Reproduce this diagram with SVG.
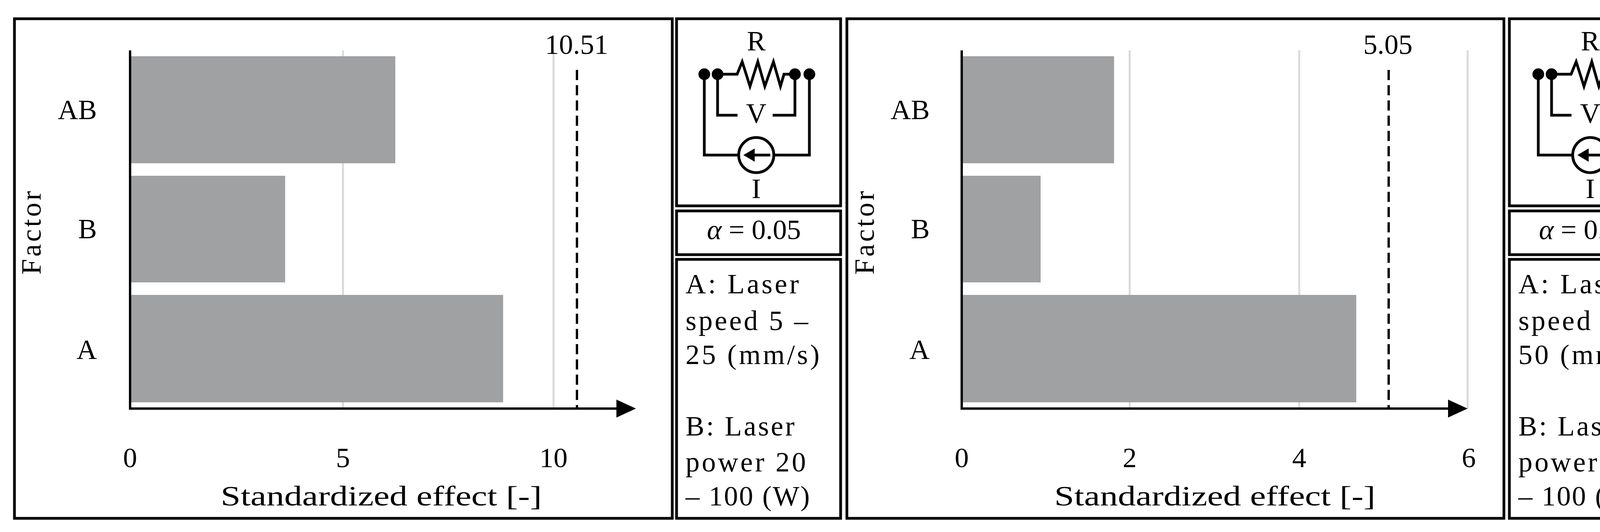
<svg xmlns="http://www.w3.org/2000/svg" width="4303" height="1362" viewBox="0 0 4303 1362">
<defs>
<style>
.box{fill:none;stroke:#000;stroke-width:7}
.t{font-family:"Liberation Serif","Times New Roman",serif;font-size:72px;fill:#000}
.m{text-anchor:middle}
.e{text-anchor:end}
.grid{stroke:#d9d9d9;stroke-width:5}
.bar{fill:#a0a1a3}
.ax{stroke:#000;stroke-width:6;fill:none}
.dash{stroke:#000;stroke-width:6;stroke-dasharray:26 13}
.w{stroke:#000;stroke-width:7;fill:none}
</style>
<g id="circuit">
<text class="t m" x="1936" y="129">R</text>
<polyline class="w" points="1837,190 1887,190 1900,158 1920,221 1940,158 1958,221 1980,158 1998,221 2007,190 2035,190"/>
<polyline class="w" points="1837,190 1837,295 1888,295"/>
<polyline class="w" points="1978,295 2035,295 2035,190"/>
<text class="t m" x="1936" y="314">V</text>
<polyline class="w" points="1803,190 1803,397 1891,397"/>
<polyline class="w" points="2072,190 2072,397 1981,397"/>
<circle class="w" cx="1936" cy="397" r="45"/>
<line class="w" x1="1972" y1="397" x2="1925" y2="397"/>
<polygon points="1903,397 1932,380 1932,414" fill="#000"/>
<circle cx="1803" cy="190" r="15"/><circle cx="1837" cy="190" r="15"/>
<circle cx="2035" cy="190" r="15"/><circle cx="2072" cy="190" r="15"/>
<text class="t m" x="1936" y="507">I</text>
</g>
</defs>

<g id="panel-left">
<rect class="box" x="37" y="48" width="1684" height="1279"/>
<line class="grid" x1="878" y1="129" x2="878" y2="1046"/>
<line class="grid" x1="1417" y1="129" x2="1417" y2="1046"/>
<rect class="bar" x="333" y="144" width="679" height="274"/>
<rect class="bar" x="333" y="450" width="397" height="273"/>
<rect class="bar" x="333" y="755" width="955" height="275"/>
<line class="dash" x1="1477" y1="179" x2="1477" y2="1046"/>
<text class="t m" x="1476" y="138">10.51</text>
<line class="ax" x1="333" y1="129" x2="333" y2="1049"/>
<line class="ax" x1="330" y1="1046" x2="1590" y2="1046"/>
<polygon points="1578,1023 1628,1046 1578,1069" fill="#000"/>
<text class="t e" x="248" y="305">AB</text>
<text class="t e" x="248" y="610">B</text>
<text class="t e" x="248" y="919">A</text>
<text class="t m" transform="translate(104,593) rotate(-90)" letter-spacing="6">Factor</text>
<text class="t m" x="333" y="1196">0</text>
<text class="t m" x="878" y="1196">5</text>
<text class="t m" x="1417" y="1196">10</text>
<text class="t m" x="976" y="1294" textLength="822" lengthAdjust="spacingAndGlyphs">Standardized effect  [-]</text>
</g>
<g id="circuit-left">
<rect class="box" x="1732" y="48" width="420" height="479"/>
<use href="#circuit"/>
</g>
<g id="alpha-left">
<rect class="box" x="1732" y="540" width="420" height="112"/>
<text class="t m" x="1930" y="612"><tspan font-style="italic">α</tspan> = 0.05</text>
</g>
<g id="legend-left">
<rect class="box" x="1732" y="664" width="420" height="663"/>
<text class="t" x="1755" y="751" textLength="290">A: Laser</text>
<text class="t" x="1755" y="845" textLength="314">speed 5 –</text>
<text class="t" x="1755" y="932" textLength="343">25 (mm/s)</text>
<text class="t" x="1755" y="1115" textLength="279">B: Laser</text>
<text class="t" x="1755" y="1207" textLength="308">power 20</text>
<text class="t" x="1755" y="1294" textLength="318">– 100 (W)</text>
</g>

<g id="panel-right">
<rect class="box" x="2168" y="48" width="1682" height="1279"/>
<line class="grid" x1="2892" y1="129" x2="2892" y2="1046"/>
<line class="grid" x1="3326" y1="129" x2="3326" y2="1046"/>
<line class="grid" x1="3757" y1="129" x2="3757" y2="1046"/>
<rect class="bar" x="2462" y="144" width="390" height="274"/>
<rect class="bar" x="2462" y="450" width="202" height="273"/>
<rect class="bar" x="2462" y="755" width="1010" height="275"/>
<line class="dash" x1="3555" y1="179" x2="3555" y2="1046"/>
<text class="t m" x="3553" y="138">5.05</text>
<line class="ax" x1="2462" y1="129" x2="2462" y2="1049"/>
<line class="ax" x1="2459" y1="1046" x2="3720" y2="1046"/>
<polygon points="3707,1023 3757,1046 3707,1069" fill="#000"/>
<text class="t e" x="2380" y="305">AB</text>
<text class="t e" x="2380" y="610">B</text>
<text class="t e" x="2380" y="919">A</text>
<text class="t m" transform="translate(2237,593) rotate(-90)" letter-spacing="6">Factor</text>
<text class="t m" x="2462" y="1196">0</text>
<text class="t m" x="2892" y="1196">2</text>
<text class="t m" x="3326" y="1196">4</text>
<text class="t m" x="3760" y="1196">6</text>
<text class="t m" x="3110" y="1294" textLength="822" lengthAdjust="spacingAndGlyphs">Standardized effect  [-]</text>
</g>
<g id="circuit-right">
<rect class="box" x="3864" y="48" width="418" height="479"/>
<use href="#circuit" x="2135"/>
</g>
<g id="alpha-right">
<rect class="box" x="3864" y="540" width="418" height="112"/>
<text class="t m" x="4060" y="612"><tspan font-style="italic">α</tspan> = 0.05</text>
</g>
<g id="legend-right">
<rect class="box" x="3864" y="664" width="418" height="663"/>
<text class="t" x="3887" y="751" textLength="290">A: Laser</text>
<text class="t" x="3887" y="845" textLength="314">speed 5 –</text>
<text class="t" x="3887" y="932" textLength="343">50 (mm/s)</text>
<text class="t" x="3887" y="1115" textLength="279">B: Laser</text>
<text class="t" x="3887" y="1207" textLength="308">power 60</text>
<text class="t" x="3887" y="1294" textLength="318">– 100 (W)</text>
</g>
<g id="connectors"></g>
</svg>
